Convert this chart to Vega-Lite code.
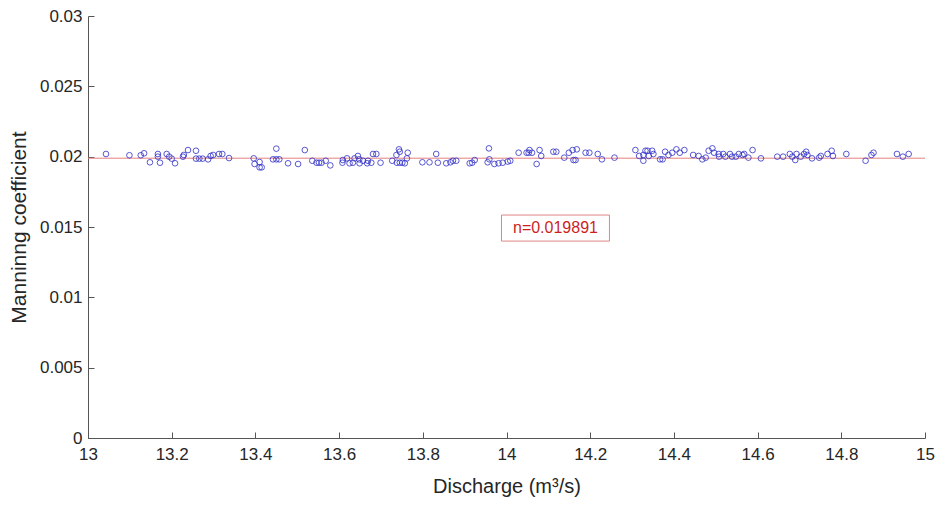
{
  "$schema": "https://vega.github.io/schema/vega-lite/v6.json",
  "width": 837,
  "height": 422,
  "autosize": {"type": "none"},
  "padding": {"left": 88, "top": 16, "right": 12, "bottom": 68},
  "background": "white",
  "config": {
    "view": {"stroke": null},
    "font": "Liberation Sans",
    "axis": {
      "grid": false,
      "domainColor": "#555555",
      "tickColor": "#555555",
      "tickSize": -6,
      "labelFont": "Liberation Sans",
      "titleFont": "Liberation Sans",
      "labelFontSize": 17,
      "titleFontSize": 20,
      "labelColor": "#262626",
      "titleColor": "#262626",
      "titleFontWeight": "normal"
    }
  },
  "datasets": {
    "pts": [
      {"q": 13.043, "n": 0.02019}, {"q": 13.099, "n": 0.0201}, {"q": 13.126, "n": 0.0201}, {"q": 13.134, "n": 0.02024},
      {"q": 13.148, "n": 0.0196}, {"q": 13.167, "n": 0.02019}, {"q": 13.167, "n": 0.02}, {"q": 13.172, "n": 0.01957},
      {"q": 13.188, "n": 0.02019}, {"q": 13.194, "n": 0.02}, {"q": 13.208, "n": 0.01953}, {"q": 13.2, "n": 0.01986},
      {"q": 13.227, "n": 0.02}, {"q": 13.229, "n": 0.02012}, {"q": 13.239, "n": 0.02047}, {"q": 13.258, "n": 0.02042},
      {"q": 13.258, "n": 0.01986}, {"q": 13.266, "n": 0.01986}, {"q": 13.274, "n": 0.01986}, {"q": 13.287, "n": 0.01981},
      {"q": 13.293, "n": 0.02005}, {"q": 13.299, "n": 0.02012}, {"q": 13.313, "n": 0.02019}, {"q": 13.321, "n": 0.02019},
      {"q": 13.337, "n": 0.0199}, {"q": 13.396, "n": 0.01988}, {"q": 13.398, "n": 0.01948}, {"q": 13.41, "n": 0.01962},
      {"q": 13.415, "n": 0.01924}, {"q": 13.41, "n": 0.01924}, {"q": 13.45, "n": 0.02057}, {"q": 13.442, "n": 0.01981},
      {"q": 13.45, "n": 0.01981}, {"q": 13.457, "n": 0.01981}, {"q": 13.478, "n": 0.01953}, {"q": 13.502, "n": 0.01948},
      {"q": 13.518, "n": 0.02047}, {"q": 13.536, "n": 0.01971}, {"q": 13.546, "n": 0.01957}, {"q": 13.552, "n": 0.01957},
      {"q": 13.558, "n": 0.01957}, {"q": 13.568, "n": 0.01971}, {"q": 13.579, "n": 0.01938}, {"q": 13.608, "n": 0.01957},
      {"q": 13.609, "n": 0.01976}, {"q": 13.619, "n": 0.01988}, {"q": 13.625, "n": 0.01953}, {"q": 13.633, "n": 0.01957},
      {"q": 13.637, "n": 0.01988}, {"q": 13.645, "n": 0.02005}, {"q": 13.648, "n": 0.01981}, {"q": 13.649, "n": 0.01953},
      {"q": 13.657, "n": 0.01971}, {"q": 13.667, "n": 0.01953}, {"q": 13.669, "n": 0.01971}, {"q": 13.677, "n": 0.01957},
      {"q": 13.681, "n": 0.02019}, {"q": 13.689, "n": 0.02019}, {"q": 13.699, "n": 0.01957}, {"q": 13.727, "n": 0.01971},
      {"q": 13.737, "n": 0.02012}, {"q": 13.738, "n": 0.01957}, {"q": 13.743, "n": 0.02052}, {"q": 13.745, "n": 0.02035},
      {"q": 13.745, "n": 0.01957}, {"q": 13.751, "n": 0.01957}, {"q": 13.757, "n": 0.01953}, {"q": 13.762, "n": 0.01988},
      {"q": 13.764, "n": 0.02028}, {"q": 13.799, "n": 0.0196}, {"q": 13.816, "n": 0.0196}, {"q": 13.832, "n": 0.02019},
      {"q": 13.836, "n": 0.01957}, {"q": 13.856, "n": 0.01953}, {"q": 13.866, "n": 0.0196}, {"q": 13.872, "n": 0.01971},
      {"q": 13.88, "n": 0.01971}, {"q": 13.912, "n": 0.01953}, {"q": 13.918, "n": 0.01957}, {"q": 13.924, "n": 0.01976},
      {"q": 13.958, "n": 0.02059}, {"q": 13.955, "n": 0.0196}, {"q": 13.959, "n": 0.01981}, {"q": 13.971, "n": 0.01948},
      {"q": 13.981, "n": 0.01953}, {"q": 13.991, "n": 0.01957}, {"q": 14.003, "n": 0.01965}, {"q": 14.009, "n": 0.01971},
      {"q": 14.029, "n": 0.02028}, {"q": 14.048, "n": 0.02028}, {"q": 14.055, "n": 0.02047}, {"q": 14.053, "n": 0.02028},
      {"q": 14.061, "n": 0.02028}, {"q": 14.072, "n": 0.01948}, {"q": 14.079, "n": 0.02047}, {"q": 14.083, "n": 0.02005},
      {"q": 14.112, "n": 0.02035}, {"q": 14.119, "n": 0.02035}, {"q": 14.138, "n": 0.01993}, {"q": 14.149, "n": 0.02028},
      {"q": 14.158, "n": 0.02047}, {"q": 14.168, "n": 0.02052}, {"q": 14.16, "n": 0.01976}, {"q": 14.165, "n": 0.01976},
      {"q": 14.189, "n": 0.02028}, {"q": 14.198, "n": 0.02028}, {"q": 14.218, "n": 0.02019}, {"q": 14.228, "n": 0.01981},
      {"q": 14.258, "n": 0.01993}, {"q": 14.308, "n": 0.02047}, {"q": 14.317, "n": 0.02005}, {"q": 14.327, "n": 0.01971},
      {"q": 14.327, "n": 0.02012}, {"q": 14.332, "n": 0.02042}, {"q": 14.337, "n": 0.02042}, {"q": 14.34, "n": 0.02005},
      {"q": 14.348, "n": 0.02042}, {"q": 14.351, "n": 0.02019}, {"q": 14.367, "n": 0.01981}, {"q": 14.373, "n": 0.01981},
      {"q": 14.379, "n": 0.02035}, {"q": 14.387, "n": 0.02012}, {"q": 14.396, "n": 0.02028}, {"q": 14.406, "n": 0.02052},
      {"q": 14.414, "n": 0.02028}, {"q": 14.425, "n": 0.02047}, {"q": 14.446, "n": 0.02012}, {"q": 14.459, "n": 0.02005},
      {"q": 14.468, "n": 0.01981}, {"q": 14.476, "n": 0.01993}, {"q": 14.483, "n": 0.02042}, {"q": 14.492, "n": 0.02059},
      {"q": 14.496, "n": 0.02028}, {"q": 14.507, "n": 0.02019}, {"q": 14.508, "n": 0.02}, {"q": 14.518, "n": 0.02019},
      {"q": 14.523, "n": 0.02}, {"q": 14.534, "n": 0.02019}, {"q": 14.539, "n": 0.02}, {"q": 14.548, "n": 0.02},
      {"q": 14.555, "n": 0.02019}, {"q": 14.564, "n": 0.02012}, {"q": 14.568, "n": 0.02019}, {"q": 14.578, "n": 0.01993},
      {"q": 14.588, "n": 0.02047}, {"q": 14.608, "n": 0.01988}, {"q": 14.647, "n": 0.02}, {"q": 14.661, "n": 0.02},
      {"q": 14.677, "n": 0.02019}, {"q": 14.683, "n": 0.02}, {"q": 14.69, "n": 0.01976}, {"q": 14.693, "n": 0.02019},
      {"q": 14.703, "n": 0.02}, {"q": 14.711, "n": 0.02019}, {"q": 14.716, "n": 0.02035}, {"q": 14.719, "n": 0.02012},
      {"q": 14.73, "n": 0.01988}, {"q": 14.747, "n": 0.01993}, {"q": 14.751, "n": 0.02005}, {"q": 14.767, "n": 0.02019},
      {"q": 14.777, "n": 0.02042}, {"q": 14.78, "n": 0.02005}, {"q": 14.812, "n": 0.02019}, {"q": 14.858, "n": 0.01971},
      {"q": 14.872, "n": 0.02012}, {"q": 14.877, "n": 0.02028}, {"q": 14.933, "n": 0.02019}, {"q": 14.947, "n": 0.02},
      {"q": 14.961, "n": 0.02019}
    ]
  },
  "layer": [
    {
      "data": {"values": [{"q0": 13, "q1": 15, "n": 0.019891}]},
      "mark": {"type": "rule", "color": "#E58080", "strokeWidth": 1},
      "encoding": {
        "x": {"field": "q0", "type": "quantitative"},
        "x2": {"field": "q1"},
        "y": {"field": "n", "type": "quantitative"}
      }
    },
    {
      "data": {"name": "pts"},
      "mark": {"type": "point", "shape": "circle", "filled": false, "color": "#2F2FC8", "strokeWidth": 0.8, "size": 32, "opacity": 1},
      "encoding": {
        "x": {
          "field": "q", "type": "quantitative",
          "scale": {"domain": [13, 15], "nice": false, "zero": false},
          "axis": {"title": "Discharge (m³/s)", "values": [13, 13.2, 13.4, 13.6, 13.8, 14, 14.2, 14.4, 14.6, 14.8, 15], "format": "~g", "labelPadding": 14, "titlePadding": 14, "labelFlush": false}
        },
        "y": {
          "field": "n", "type": "quantitative",
          "scale": {"domain": [0, 0.03], "nice": false},
          "axis": {"title": "Manninng coefficient", "titleFontSize": 21, "values": [0, 0.005, 0.01, 0.015, 0.02, 0.025, 0.03], "format": "~g", "labelPadding": 12, "titlePadding": 10, "labelFlush": false}
        }
      }
    },
    {
      "data": {"values": [{"a": 13.988, "b": 14.246, "c": 0.01585, "d": 0.014}]},
      "mark": {"type": "rect", "fill": "white", "stroke": "#E08585", "strokeWidth": 1},
      "encoding": {
        "x": {"field": "a", "type": "quantitative"},
        "x2": {"field": "b"},
        "y": {"field": "c", "type": "quantitative"},
        "y2": {"field": "d"}
      }
    },
    {
      "data": {"values": [{"q": 14.117, "n": 0.01492, "label": "n=0.019891"}]},
      "mark": {"type": "text", "color": "#CC1F1F", "fontSize": 16, "font": "Liberation Sans", "align": "center", "baseline": "middle"},
      "encoding": {
        "x": {"field": "q", "type": "quantitative"},
        "y": {"field": "n", "type": "quantitative"},
        "text": {"field": "label"}
      }
    }
  ]
}
